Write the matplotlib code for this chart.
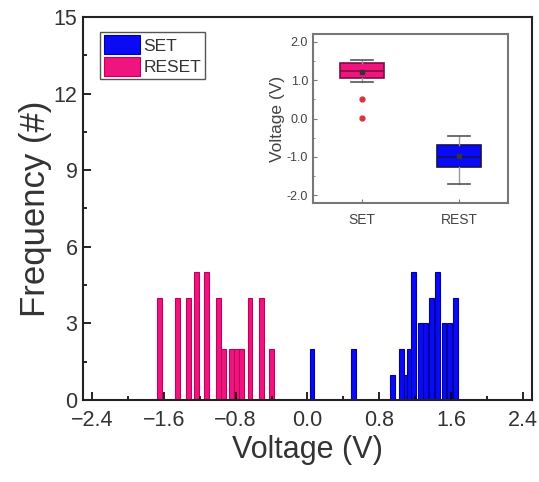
import numpy as np
import matplotlib.pyplot as plt
from matplotlib.ticker import MultipleLocator

plt.rcParams['font.family'] = ['Liberation Sans', 'DejaVu Sans']

# histogram bars (bar centre voltage, count)
reset_v = [-1.65, -1.45, -1.32, -1.24, -1.12, -0.99, -0.94, -0.85, -0.79, -0.73, -0.64, -0.51, -0.40]
reset_n = [4, 4, 4, 5, 5, 4, 2, 2, 2, 2, 4, 4, 2]
set_v = [0.05, 0.51, 0.95, 1.05, 1.10, 1.14, 1.18, 1.26, 1.31, 1.38, 1.45, 1.52, 1.58, 1.65]
set_n = [2, 2, 1, 2, 1, 2, 5, 3, 3, 4, 5, 3, 3, 4]

# inset box plot stats
box_names = ["SET", "REST"]
box_q1 = [1.06, -1.27]
box_med = [1.24, -1.00]
box_q3 = [1.45, -0.69]
box_lo = [0.95, -1.71]
box_hi = [1.53, -0.46]
box_mean = [1.20, -0.97]
set_outliers = [0.51, 0.01]

pink = '#F0147F'
blue = '#0A0AF5'
txt = '#333333'

fig = plt.figure(figsize=(5.39, 4.82), dpi=100)
ax = fig.add_axes([0.154, 0.170, 0.833, 0.795])

ax.bar(set_v, set_n, width=0.055, color=blue, edgecolor='#0000A0', linewidth=0.8, label='SET')
ax.bar(reset_v, reset_n, width=0.055, color=pink, edgecolor='#C0005A', linewidth=0.8, label='RESET')

ax.set_xlim(-2.5, 2.5)
ax.set_ylim(0, 15)
ax.set_xticks([-2.4, -1.6, -0.8, 0.0, 0.8, 1.6, 2.4])
ax.set_yticks([0, 3, 6, 9, 12, 15])
ax.xaxis.set_minor_locator(MultipleLocator(0.4))
ax.yaxis.set_minor_locator(MultipleLocator(1.5))
ax.tick_params(which='both', direction='in', top=False, right=False,
               labelsize=15.5, labelcolor=txt, width=1.2)
ax.tick_params(axis='x', pad=7)
ax.tick_params(axis='y', pad=4)
ax.tick_params(which='major', length=6)
ax.tick_params(which='minor', length=3)
for s in ax.spines.values():
    s.set_linewidth(1.5)
    s.set_color('#222222')
ax.set_xlabel('Voltage (V)', fontsize=22, color=txt)
ax.set_ylabel('Frequency (#)', fontsize=25, color=txt)
ax.xaxis.set_label_coords(0.5, -0.09)
ax.yaxis.set_label_coords(-0.07, 0.5)

leg = ax.legend(loc='upper left', bbox_to_anchor=(0.038, 0.961), fontsize=12.5,
                handlelength=2.1, handleheight=1.3, handletextpad=0.2,
                labelspacing=0.15, borderpad=0.2, borderaxespad=0,
                fancybox=False, framealpha=1, edgecolor='#555555')
for t in leg.get_texts():
    t.set_color(txt)

# inset
ins = fig.add_axes([313 / 539, 1 - 203 / 482, 195 / 539, 169 / 482])
stats = []
for i in range(2):
    stats.append(dict(label=box_names[i], q1=box_q1[i], med=box_med[i], q3=box_q3[i],
                      whislo=box_lo[i], whishi=box_hi[i], mean=box_mean[i],
                      fliers=set_outliers if i == 0 else []))
bp = ins.bxp(stats, positions=[1, 2], widths=0.45, patch_artist=True, showmeans=True,
             meanprops=dict(marker='s', markersize=3, markerfacecolor='#333333',
                            markeredgecolor='#333333'),
             flierprops=dict(marker='o', markersize=3.5, markerfacecolor='#E0303A',
                             markeredgecolor='#E0303A'),
             medianprops=dict(color='#80103A', linewidth=1.2),
             whiskerprops=dict(color='#999999', linewidth=1),
             capprops=dict(color='#555555', linewidth=1.2))
bp['boxes'][0].set(facecolor=pink, edgecolor='#7A1040', linewidth=1.2)
bp['boxes'][1].set(facecolor=blue, edgecolor='#101060', linewidth=1.2)
bp['medians'][1].set_color('#101060')

ins.set_xlim(0.5, 2.5)
ins.set_ylim(-2.2, 2.2)
ins.set_yticks([-2.0, -1.0, 0.0, 1.0, 2.0])
ins.set_yticklabels(['-2.0', '-1.0', '0.0', '1.0', '2.0'])
ins.yaxis.set_minor_locator(MultipleLocator(0.5))
ins.tick_params(which='both', direction='in', labelsize=9, labelcolor='#444444',
                color='#777777', top=False, right=False)
ins.tick_params(axis='x', labelsize=10, pad=7)
ins.tick_params(which='major', length=3)
ins.tick_params(which='minor', length=1.5)
ins.set_ylabel('Voltage (V)', fontsize=12.5, color='#444444', labelpad=1)
for s in ins.spines.values():
    s.set_linewidth(1.5)
    s.set_color('#777777')

fig.savefig('out.png', dpi=100)
